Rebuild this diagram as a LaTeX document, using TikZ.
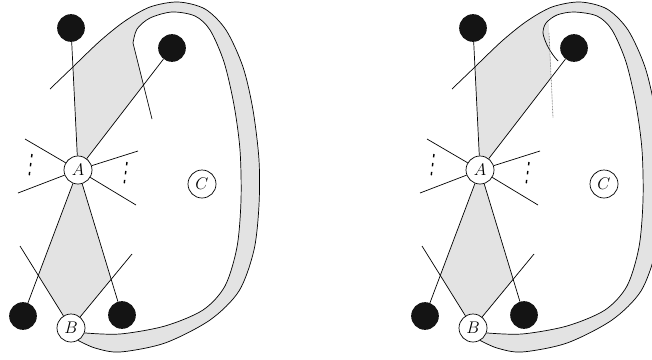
\documentclass[tikz,border=0pt]{standalone}
\usepackage{tikz}
\usetikzlibrary{backgrounds}

% common part of both panels: vertices, edges and the lower face
\newcommand{\starpart}{%
  % ── Vertices ─────────────────────────────────────────────────────────────
  \node[vertex] (A) at (78,170)  {$A$};
  \node[vertex] (B) at (71,328)  {$B$};
  \node[vertex] (C) at (202,184) {$C$};
  \node[blob] (t1) at (71,28)   {};
  \node[blob] (t2) at (172,48)  {};
  \node[blob] (d1) at (23,316)  {};
  \node[blob] (d2) at (122,315) {};
  % ── Loose edge ends ──────────────────────────────────────────────────────
  \coordinate (a1) at (25,139);
  \coordinate (a2) at (138,151);
  \coordinate (a3) at (18,193);
  \coordinate (a4) at (136,205);
  \coordinate (b1) at (20,246);
  \coordinate (b2) at (132,254);
  % ── Edges ────────────────────────────────────────────────────────────────
  \foreach \v in {t1,t2,d1,d2,a1,a2,a3,a4} \draw[wire] (A) -- (\v);
  \foreach \v in {b1,b2} \draw[wire] (B) -- (\v);
  \draw[vdots] (32,154) -- (29,177);
  \draw[vdots] (127,162) -- (124,185);
  % ── Lower face ───────────────────────────────────────────────────────────
  \begin{scope}[on background layer]
    \fill[grayface] (A.center) -- (38.3,275.4) -- (B.center) -- (111.2,279.3) -- cycle;
  \end{scope}
  % ── Outer rim of the band ────────────────────────────────────────────────
  \draw[wire] (50,89) -- plot[smooth] coordinates {(72.9,67) (100,41) (125,21)
    (150,7) (178,2) (205,9) (226,30) (243,67) (253,110) (259,160) (259,205)
    (254,250) (239,291) (210,320) (165,343) (120,352) (95,348) (B.-60)};
}

\begin{document}
\begin{tikzpicture}[
  x=0.03cm, y=-0.03cm,
  vertex/.style   = {circle, draw, fill=white, line width=0.6pt, inner sep=0pt,
                     minimum size=0.84cm, font=\Large},
  blob/.style     = {circle, fill=black!92, inner sep=0pt, minimum size=0.83cm},
  wire/.style     = {line width=0.6pt},
  grayface/.style = {fill=black!11},
  vdots/.style    = {line width=1.2pt, dash pattern=on 2.9pt off 4.8pt},
  guide/.style    = {black!55, line width=0.6pt, dash pattern=on 0.6pt off 0.7pt}
]
\useasboundingbox (0,0) rectangle (652,359);

% ── Left panel ───────────────────────────────────────────────────────────────
\begin{scope}[name prefix=L-]
  \starpart
  \begin{scope}[on background layer]
    \fill[grayface] (A.center) -- plot[smooth] coordinates {(72.9,67) (100,41)
      (125,21) (150,7) (178,2) (205,9) (226,30) (243,67) (253,110) (259,160)
      (259,205) (254,250) (239,291) (210,320) (165,343) (120,352) (95,348)
      (B.-60)}
      -- plot[smooth] coordinates {(B.-20) (120,334) (165,326) (203,310)
      (225,286) (237,247) (241,200) (240,150) (234,105) (224,62) (210,30)
      (195,16) (172,12) (150,18) (137,29) (133,43)} -- (143.5,85) -- cycle;
  \end{scope}
  \draw[wire] plot[smooth] coordinates {(B.-20) (120,334) (165,326) (203,310)
    (225,286) (237,247) (241,200) (240,150) (234,105) (224,62) (210,30)
    (195,16) (172,12) (150,18) (137,29) (133,43)} -- (152,119);
\end{scope}

% ── Right panel ──────────────────────────────────────────────────────────────
\begin{scope}[name prefix=R-, shift={(402,0)}]
  \starpart
  \begin{scope}[on background layer]
    \fill[grayface] (A.center) -- plot[smooth] coordinates {(72.9,67) (100,41)
      (125,21) (150,7) (178,2) (205,9) (226,30) (243,67) (253,110) (259,160)
      (259,205) (254,250) (239,291) (210,320) (165,343) (120,352) (95,348)
      (B.-60)}
      -- plot[smooth] coordinates {(B.-20) (120,334) (165,326) (203,310)
      (225,286) (237,247) (241,200) (240,150) (234,105) (224,62) (210,30)
      (195,16) (172,12) (155,15)} -- (146.5,19) -- (149.1,77.7) -- cycle;
  \end{scope}
  \draw[wire] plot[smooth] coordinates {(B.-20) (120,334) (165,326) (203,310)
    (225,286) (237,247) (241,200) (240,150) (234,105) (224,62) (210,30)
    (195,16) (172,12) (155,15) (144,23) (141,33) (145,45) (151,55) (156,61)};
  \draw[guide] (147,33) -- (151,118);
\end{scope}

\end{tikzpicture}
\end{document}
